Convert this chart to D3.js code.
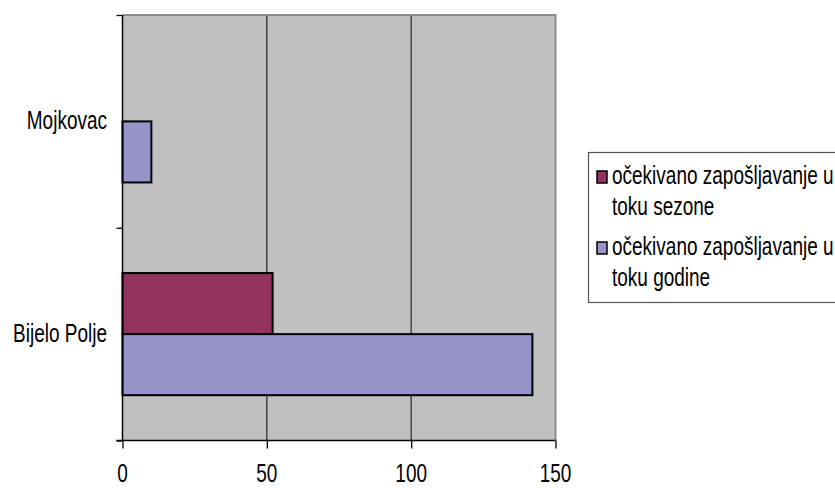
<!DOCTYPE html>
<html>
<head>
<meta charset="utf-8">
<script src="https://cdn.jsdelivr.net/npm/d3@7"></script>
<style>
  html, body { margin: 0; padding: 0; background: #fff; }
  svg { display: block; }
  text { font-family: "Liberation Sans", Arial, sans-serif; fill: #000; }
</style>
</head>
<body>
<script>
// Municipalities (top to bottom) and the two employment series
const categories = ["Mojkovac", "Bijelo Polje"];
const seriesNames = ["očekivano zapošljavanje u toku sezone", "očekivano zapošljavanje u toku godine"];
const legendLines = [["očekivano zapošljavanje u", "toku sezone"], ["očekivano zapošljavanje u", "toku godine"]];
const seasonValues = [0, 52];
const yearValues = [10, 142];
const xTicks = [0, 50, 100, 150];
const colors = ["#943260", "#9693c8"];

const W = 835, H = 488;
const plot = { left: 122.5, right: 555.5, top: 15, bottom: 440.5 };
const FS = 25, SX = 0.76; // font size and horizontal squeeze of the lettering

const svg = d3.select("body").append("svg").attr("width", W).attr("height", H);

const x = d3.scaleLinear().domain([0, 150]).range([plot.left, plot.right]);
const y = d3.scaleBand().domain(categories).range([plot.top, plot.bottom]);
const ySub = d3.scaleBand().domain(seriesNames).range([0, y.bandwidth()]).paddingOuter(0.742);

// condensed text helper
function label(g, tx, ty, str, anchor) {
  const t = g.append("g").attr("transform", `translate(${tx},${ty}) scale(${SX},1)`);
  t.append("text").attr("text-anchor", anchor).attr("font-size", FS).text(str);
  return t;
}

// plot background
svg.append("rect")
  .attr("x", plot.left).attr("y", plot.top)
  .attr("width", plot.right - plot.left).attr("height", plot.bottom - plot.top)
  .attr("fill", "#c0c0c0");

// vertical gridlines
svg.append("g").selectAll("line").data(xTicks.filter(d => d > 0 && d < 150)).join("line")
  .attr("x1", d => x(d)).attr("x2", d => x(d))
  .attr("y1", plot.top).attr("y2", plot.bottom)
  .attr("stroke", "#333").attr("stroke-width", 1.3);

// top and right frame
svg.append("path")
  .attr("d", `M${plot.left},${plot.top}H${plot.right}V${plot.bottom}`)
  .attr("fill", "none").attr("stroke", "#8c8c8c").attr("stroke-width", 2);

// bars
const rows = categories.map((c, i) => ({ cat: c, vals: [seasonValues[i], yearValues[i]] }));
const barG = svg.append("g");
rows.forEach(r => {
  r.vals.forEach((v, j) => {
    if (v <= 0) return;
    barG.append("rect")
      .attr("x", x(0))
      .attr("y", y(r.cat) + ySub(seriesNames[j]))
      .attr("width", x(v) - x(0))
      .attr("height", ySub.bandwidth())
      .attr("fill", colors[j])
      .attr("stroke", "#000").attr("stroke-width", 2);
  });
});

// x axis
const xAxis = svg.append("g").attr("transform", `translate(0,${plot.bottom})`)
  .call(d3.axisBottom(x).tickValues(xTicks).tickSize(8).tickFormat(""));
xAxis.select(".domain").attr("d", `M${plot.left - 6},0H${plot.right}`).attr("stroke", "#000").attr("stroke-width", 1.3);
xAxis.selectAll(".tick line").attr("stroke", "#000").attr("stroke-width", 1.3);
xTicks.forEach(t => label(svg, x(t), 482, String(t), "middle"));

// y axis
const yAxis = svg.append("g").attr("transform", `translate(${plot.left},0)`)
  .call(d3.axisLeft(d3.scaleLinear().domain([0, 2]).range([plot.top, plot.bottom])).tickValues([0, 1, 2]).tickSize(6).tickFormat(""));
yAxis.select(".domain").attr("d", `M0,${plot.top}V${plot.bottom}`).attr("stroke", "#000").attr("stroke-width", 1.5);
yAxis.selectAll(".tick line").attr("stroke", "#000").attr("stroke-width", 1.3);
categories.forEach(c => label(svg, 107, y(c) + y.bandwidth() / 2 + 8, c, "end"));

// legend
const lg = svg.append("g");
lg.append("rect").attr("x", 588.5).attr("y", 152.5).attr("width", 260).attr("height", 150)
  .attr("fill", "#fff").attr("stroke", "#555").attr("stroke-width", 1.2);
const entryY = [184, 255];
legendLines.forEach((lines, i) => {
  lg.append("rect").attr("x", 597).attr("y", entryY[i] - 13).attr("width", 10).attr("height", 12)
    .attr("fill", colors[i]).attr("stroke", "#000").attr("stroke-width", 1.5);
  lines.forEach((ln, k) => label(lg, 612, entryY[i] + k * 31, ln, "start"));
});
</script>
</body>
</html>
